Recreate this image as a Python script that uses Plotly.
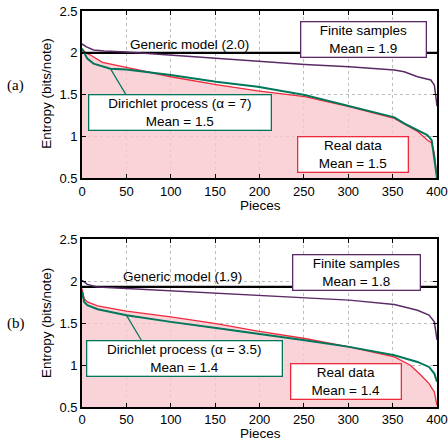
import plotly.graph_objects as go

# ---------------- data ----------------
# Panel (a)
real_a_x = [0, 4, 10, 23, 50, 100, 151, 198, 251, 301, 352, 378, 389, 394, 397, 400]
real_a_y = [2.05, 2.0, 1.97, 1.886, 1.826, 1.713, 1.62, 1.545, 1.474, 1.355, 1.215, 1.06, 0.955, 0.92, 0.80, 0.51]
dp_a_x = [0, 6, 13, 32, 50, 100, 151, 198, 251, 301, 333, 352, 363, 378, 389, 394, 397, 400]
dp_a_y = [2.05, 1.93, 1.87, 1.81, 1.80, 1.733, 1.653, 1.594, 1.494, 1.362, 1.282, 1.227, 1.155, 1.075, 1.015, 0.955, 0.755, 0.5]
fin_a_x = [0, 5, 13, 25, 50, 100, 151, 198, 251, 301, 352, 363, 378, 393, 397, 399, 400]
fin_a_y = [2.105, 2.07, 2.033, 2.02, 2.01, 1.973, 1.933, 1.905, 1.86, 1.833, 1.793, 1.773, 1.713, 1.674, 1.614, 1.45, 1.36]
generic_a = 2.0

# Panel (b)
real_b_x = [0, 1, 2.5, 6, 17.6, 50, 100, 151, 198, 251, 301, 352, 370, 382, 391, 397, 400]
real_b_y = [1.91, 1.85, 1.79, 1.752, 1.705, 1.641, 1.573, 1.494, 1.403, 1.316, 1.216, 1.097, 0.997, 0.878, 0.779, 0.68, 0.52]
dp_b_x = [0, 2.5, 6, 17.6, 50, 100, 151, 198, 251, 301, 352, 378, 391, 397, 400]
dp_b_y = [1.872, 1.752, 1.713, 1.665, 1.594, 1.514, 1.442, 1.375, 1.296, 1.216, 1.117, 1.037, 0.977, 0.898, 0.80]
fin_b_x = [0, 6, 17.6, 50, 100, 151, 198, 251, 301, 352, 378, 391, 397, 400]
fin_b_y = [2.01, 1.96, 1.93, 1.912, 1.892, 1.864, 1.832, 1.805, 1.773, 1.72, 1.653, 1.594, 1.514, 1.3]
generic_b = 1.93

x_ticks = [0, 50, 100, 150, 200, 250, 300, 350, 400]
y_ticks = [0.5, 1, 1.5, 2, 2.5]

generic_labels = ["Generic model (2.0)", "Generic model (1.9)"]
finite_labels = ["Finite samples<br>Mean = 1.9", "Finite samples<br>Mean = 1.8"]
dp_labels = ["Dirichlet process (α = 7)<br>Mean = 1.5", "Dirichlet process (α = 3.5)<br>Mean = 1.4"]
real_labels = ["Real data<br>Mean = 1.5", "Real data<br>Mean = 1.4"]
panel_labels = ["(a)", "(b)"]

# ---------------- styling ----------------
RED = "#ee2a3c"
PINK = "rgba(248,200,206,0.8)"
GREEN = "#00775a"
PURPLE = "#5b2a66"
FONT = "Liberation Sans"

fig = go.Figure()

panels = [
    dict(xa="x", ya="y", real=(real_a_x, real_a_y), dp=(dp_a_x, dp_a_y), fin=(fin_a_x, fin_a_y), gen=generic_a),
    dict(xa="x2", ya="y2", real=(real_b_x, real_b_y), dp=(dp_b_x, dp_b_y), fin=(fin_b_x, fin_b_y), gen=generic_b),
]

for p in panels:
    fig.add_trace(go.Scatter(x=p["real"][0], y=p["real"][1], mode="lines", fill="tozeroy",
                             fillcolor=PINK, line=dict(color=RED, width=1.3),
                             xaxis=p["xa"], yaxis=p["ya"], showlegend=False, hoverinfo="skip"))
    fig.add_trace(go.Scatter(x=[x_ticks[0], x_ticks[-1]], y=[p["gen"], p["gen"]], mode="lines",
                             line=dict(color="black", width=2.2),
                             xaxis=p["xa"], yaxis=p["ya"], showlegend=False, hoverinfo="skip"))
    fig.add_trace(go.Scatter(x=p["fin"][0], y=p["fin"][1], mode="lines",
                             line=dict(color=PURPLE, width=1.5),
                             xaxis=p["xa"], yaxis=p["ya"], showlegend=False, hoverinfo="skip"))
    fig.add_trace(go.Scatter(x=p["dp"][0], y=p["dp"][1], mode="lines",
                             line=dict(color=GREEN, width=2),
                             xaxis=p["xa"], yaxis=p["ya"], showlegend=False, hoverinfo="skip"))

axis_common = dict(
    showline=True, linecolor="black", linewidth=1.6, mirror="ticks",
    ticks="inside", ticklen=4, tickcolor="black", tickwidth=1,
    showgrid=True, gridcolor="#bdbdbd", griddash="dot", gridwidth=1,
    zeroline=False, automargin=False,
    tickfont=dict(family=FONT, size=13, color="black"),
)

fig.update_layout(
    width=448, height=440,
    margin=dict(l=82, r=11, t=11, b=33),
    paper_bgcolor="white", plot_bgcolor="white",
    font=dict(family=FONT, size=13.5, color="black"),
    xaxis=dict(domain=[0, 1], range=[0, 400], tickvals=x_ticks, anchor="y", **axis_common),
    yaxis=dict(domain=[0.578, 1], range=[0.5, 2.5], tickvals=y_ticks, anchor="x", **axis_common),
    xaxis2=dict(domain=[0, 1], range=[0, 400], tickvals=x_ticks, anchor="y2", **axis_common),
    yaxis2=dict(domain=[0, 0.424], range=[0.5, 2.5], tickvals=y_ticks, anchor="x2", **axis_common),
)

# label placement (data coordinates of box centres) per panel
place = [
    dict(gen=(121, 2.105), fin=(317, 2.16, 127), dp=(110.4, 1.29, 184), real=(304.8, 0.78, 112),
         conn_idx=3, conn_top=(49.2, 1.505)),
    dict(gen=(113, 2.05), fin=(309.3, 2.104, 129), dp=(115.7, 1.081, 197), real=(297, 0.806, 112),
         conn_idx=4, conn_top=(66.9, 1.295)),
]

annotations = []
shapes = []
for i, (p, pl) in enumerate(zip(panels, place)):
    xr, yr = p["xa"], p["ya"]
    annotations.append(dict(x=pl["gen"][0], y=pl["gen"][1], xref=xr, yref=yr, text=generic_labels[i],
                            showarrow=False, font=dict(size=13.5)))
    for key, txt, col in [("fin", finite_labels[i], PURPLE), ("dp", dp_labels[i], GREEN),
                          ("real", real_labels[i], RED)]:
        cx, cy, w = pl[key]
        annotations.append(dict(x=cx, y=cy, xref=xr, yref=yr, text=txt, showarrow=False,
                                bgcolor="white", bordercolor=col, borderwidth=1.3, borderpad=0,
                                width=w - 3, height=34, align="center", valign="middle",
                                font=dict(size=13.5)))
    # connector from DP box to DP curve
    dpx, dpy = p["dp"]
    k = pl["conn_idx"]
    shapes.append(dict(type="line", xref=xr, yref=yr, x0=dpx[k], y0=dpy[k],
                       x1=pl["conn_top"][0], y1=pl["conn_top"][1], line=dict(color=GREEN, width=1.2)))

# axis titles and panel labels
for i, (ytc, pxy, pieces_y) in enumerate([(0.79, 0.811, 0.51), (0.211, 0.2115, -0.0665)]):
    annotations.append(dict(x=-0.100, y=ytc, xref="paper", yref="paper", text="Entropy (bits/note)",
                            textangle=-90, showarrow=False, xanchor="center", yanchor="middle",
                            font=dict(size=13.5)))
    annotations.append(dict(x=-0.187, y=pxy, xref="paper", yref="paper", text=panel_labels[i],
                            showarrow=False, xanchor="center", yanchor="middle",
                            font=dict(family="Liberation Serif", size=15)))
    annotations.append(dict(x=0.5025, y=pieces_y, xref="paper", yref="paper", text="Pieces",
                            showarrow=False, xanchor="center", yanchor="middle",
                            font=dict(size=13.5)))

fig.update_layout(annotations=annotations, shapes=shapes)

fig.write_html("out.html", config={"displayModeBar": False},
               post_script="document.body.style.margin='0';document.body.style.overflow='hidden';")
